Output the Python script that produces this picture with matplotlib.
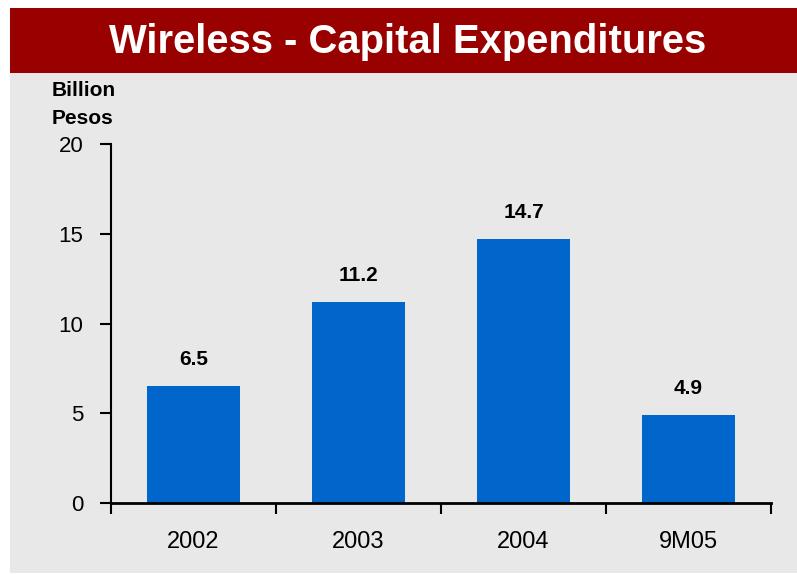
import matplotlib.pyplot as plt
from matplotlib.patches import Rectangle

plt.rcParams['font.family'] = ['Liberation Sans', 'DejaVu Sans']

categories = ["2002", "2003", "2004", "9M05"]
capex = [6.5, 11.2, 14.7, 4.9]
value_labels = ["6.5", "11.2", "14.7", "4.9"]
yticks = [0, 5, 10, 15, 20]

fig = plt.figure(figsize=(7.97, 5.74), dpi=100)
fig.patch.set_facecolor('white')

# gray panel and red title banner
W, H = 797, 574
fig.patches.append(Rectangle((10 / W, 1 - 573 / H), 787 / W, 565 / H,
                             transform=fig.transFigure, facecolor='#e8e8e8',
                             edgecolor='none', zorder=-2))
fig.patches.append(Rectangle((10 / W, 1 - 73 / H), 787 / W, 65 / H,
                             transform=fig.transFigure, facecolor='#990000',
                             edgecolor='none', zorder=-1))
fig.text(408 / W, 1 - 42 / H, "Wireless - Capital Expenditures", color='white',
         fontsize=28.8, fontweight='bold', ha='center', va='center')
fig.text(52 / W, 1 - 90 / H, "Billion", fontsize=15, fontweight='bold',
         ha='left', va='center')
fig.text(52 / W, 1 - 119 / H, "Pesos", fontsize=15, fontweight='bold',
         ha='left', va='center')

ax = fig.add_axes([111 / W, 1 - 503 / H, 660 / W, 359 / H])
ax.set_zorder(2)
ax.set_facecolor('none')

x = range(len(categories))
ax.bar(x, capex, width=0.565, color='#0066cc', zorder=2)
for i, v in enumerate(capex):
    ax.annotate(value_labels[i], (i, v), xytext=(0, 17), textcoords='offset pixels',
                ha='center', va='bottom', fontsize=15, fontweight='bold')

ax.set_xlim(-0.5, 3.5)
ax.set_ylim(0, 20)
ax.set_yticks(yticks)
ax.set_xticks([-0.5, 0.5, 1.5, 2.5, 3.5])
ax.set_xticklabels([])
ax.set_xticks(list(x), minor=True)
ax.set_xticklabels(categories, minor=True, fontsize=17)
ax.tick_params(axis='x', which='minor', length=0, pad=20)
ax.tick_params(axis='x', which='major', length=8, width=1.5, direction='out')
ax.tick_params(axis='y', length=8, width=1.5, direction='out', labelsize=16, pad=12)

for s in ['top', 'right']:
    ax.spines[s].set_visible(False)
ax.spines['left'].set_linewidth(1.5)
ax.spines['bottom'].set_linewidth(2)

fig.savefig('out.png', dpi=100)
